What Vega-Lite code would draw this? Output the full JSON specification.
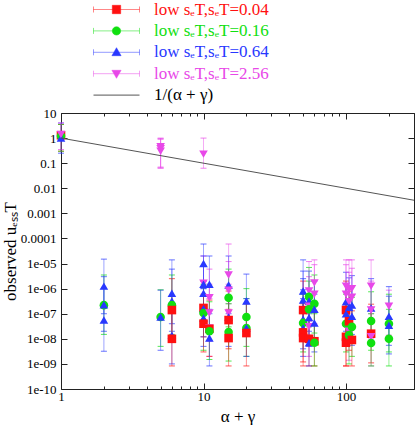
{
  "$schema": "https://vega.github.io/schema/vega-lite/v6.json",
  "width": 353,
  "height": 276,
  "autosize": "none",
  "padding": {"left": 61, "top": 113, "right": 1, "bottom": 36},
  "config": {
    "font": "Liberation Serif",
    "view": {"stroke": "#222", "strokeWidth": 1},
    "axis": {"grid": false, "domain": false, "tickColor": "#222", "labelColor": "#000", "titleColor": "#000", "labelFont": "Liberation Serif", "titleFont": "Liberation Serif", "titleFontWeight": "normal", "labelFontSize": 13, "titleFontSize": 17},
    "legend": {"orient": "none", "legendX": 47, "legendY": -112, "title": null, "padding": 0,
      "labelFont": "Liberation Serif", "labelFontSize": 17, "rowPadding": 3.4, "symbolSize": 16, "labelOffset": 29, "symbolStrokeWidth": 1}
  },
  "data": {"values": [
    {"x": 1, "y": 1.3, "lo": 0.3, "hi": 3.5, "s": "0.04"},
    {"x": 1, "y": 1.2, "lo": 0.3, "hi": 3.5, "s": "0.16"},
    {"x": 1, "y": 1.0, "lo": 0.25, "hi": 4, "s": "0.64"},
    {"x": 1, "y": 1.4, "lo": 0.35, "hi": 4, "s": "2.56"},
    {"x": 2, "y": 2.2e-7, "lo": 1.5e-8, "hi": 3.5e-6, "s": "0.16"},
    {"x": 2, "y": 1.26e-6, "lo": 1e-7, "hi": 1.5e-5, "s": "0.64"},
    {"x": 2, "y": 2.3e-7, "lo": 2e-8, "hi": 3e-6, "s": "0.64"},
    {"x": 2, "y": 5.6e-8, "lo": 3.2e-9, "hi": 1e-6, "s": "0.64"},
    {"x": 5, "y": 7.4e-8, "lo": 5e-9, "hi": 9e-7, "s": "0.16"},
    {"x": 5, "y": 7.4e-8, "lo": 3.5e-9, "hi": 8.7e-7, "s": "0.64"},
    {"x": 5, "y": 0.45, "lo": 0.07, "hi": 1.0, "s": "2.56"},
    {"x": 5, "y": 0.38, "lo": 0.065, "hi": 0.95, "s": "2.56"},
    {"x": 5, "y": 0.3, "lo": 0.063, "hi": 0.9, "s": "2.56"},
    {"x": 6, "y": 6.6e-7, "lo": 4e-8, "hi": 1.4e-5, "s": "0.64"},
    {"x": 6, "y": 3.2e-7, "lo": 2e-8, "hi": 6e-6, "s": "0.64"},
    {"x": 6, "y": 2.2e-7, "lo": 1.5e-8, "hi": 3.5e-6, "s": "0.16"},
    {"x": 6, "y": 1.4e-7, "lo": 1e-8, "hi": 2.5e-6, "s": "0.04"},
    {"x": 6, "y": 1.4e-8, "lo": 1e-9, "hi": 2.5e-7, "s": "0.64"},
    {"x": 6, "y": 1e-8, "lo": 8.3e-10, "hi": 1.5e-7, "s": "0.04"},
    {"x": 10, "y": 1e-5, "lo": 1e-6, "hi": 6e-5, "s": "0.64"},
    {"x": 10, "y": 1.66e-6, "lo": 1.5e-7, "hi": 2e-5, "s": "2.56"},
    {"x": 10, "y": 1.5e-6, "lo": 1.2e-7, "hi": 2e-5, "s": "0.64"},
    {"x": 10, "y": 6.6e-7, "lo": 5e-8, "hi": 8e-6, "s": "0.64"},
    {"x": 10, "y": 1.7e-7, "lo": 1.2e-8, "hi": 2e-6, "s": "0.04"},
    {"x": 10, "y": 1.6e-7, "lo": 1.2e-8, "hi": 2e-6, "s": "0.64"},
    {"x": 10, "y": 1.07e-7, "lo": 3.5e-9, "hi": 1.5e-6, "s": "0.16"},
    {"x": 10, "y": 6.8e-8, "lo": 5e-9, "hi": 1e-6, "s": "0.64"},
    {"x": 10, "y": 4e-8, "lo": 3e-9, "hi": 6e-7, "s": "0.04"},
    {"x": 10, "y": 0.23, "lo": 0.063, "hi": 1.0, "s": "2.56"},
    {"x": 11, "y": 1.5e-6, "lo": 1e-7, "hi": 2e-5, "s": "0.64"},
    {"x": 11, "y": 4.3e-7, "lo": 3e-8, "hi": 6e-6, "s": "2.56"},
    {"x": 11, "y": 1.07e-7, "lo": 8e-9, "hi": 1.5e-6, "s": "2.56"},
    {"x": 11, "y": 2.7e-8, "lo": 2e-9, "hi": 4e-7, "s": "2.56"},
    {"x": 11, "y": 2.5e-8, "lo": 2e-9, "hi": 3.5e-7, "s": "0.04"},
    {"x": 11, "y": 2e-8, "lo": 1.5e-9, "hi": 3e-7, "s": "0.16"},
    {"x": 11, "y": 1.07e-8, "lo": 8.3e-10, "hi": 1.5e-7, "s": "0.64"},
    {"x": 15, "y": 3.5e-6, "lo": 2.5e-7, "hi": 6e-5, "s": "2.56"},
    {"x": 15, "y": 1.4e-6, "lo": 1e-7, "hi": 2e-5, "s": "0.64"},
    {"x": 15, "y": 8.7e-7, "lo": 6e-8, "hi": 1.2e-5, "s": "2.56"},
    {"x": 15, "y": 4.3e-7, "lo": 3e-8, "hi": 6e-6, "s": "0.16"},
    {"x": 15, "y": 1.07e-7, "lo": 8e-9, "hi": 1.5e-6, "s": "2.56"},
    {"x": 15, "y": 7.4e-8, "lo": 5e-9, "hi": 1e-6, "s": "0.64"},
    {"x": 15, "y": 5.6e-8, "lo": 4e-9, "hi": 8e-7, "s": "0.04"},
    {"x": 15, "y": 1.86e-8, "lo": 1.3e-9, "hi": 2.5e-7, "s": "0.16"},
    {"x": 15, "y": 1.07e-8, "lo": 8.3e-10, "hi": 1.5e-7, "s": "0.04"},
    {"x": 20, "y": 3.2e-7, "lo": 2e-8, "hi": 3.8e-6, "s": "0.64"},
    {"x": 20, "y": 7.4e-8, "lo": 5e-9, "hi": 1e-6, "s": "0.16"},
    {"x": 20, "y": 2.7e-8, "lo": 2e-9, "hi": 4e-7, "s": "0.16"},
    {"x": 20, "y": 2.7e-8, "lo": 2e-9, "hi": 4e-7, "s": "0.64"},
    {"x": 20, "y": 1.7e-8, "lo": 8.3e-10, "hi": 2.5e-7, "s": "0.04"},
    {"x": 50, "y": 8e-7, "lo": 5e-8, "hi": 1.4e-5, "s": "0.64"},
    {"x": 50, "y": 3.5e-7, "lo": 2.5e-8, "hi": 5e-6, "s": "0.64"},
    {"x": 50, "y": 1.6e-7, "lo": 1e-8, "hi": 2.5e-6, "s": "0.64"},
    {"x": 50, "y": 1.4e-7, "lo": 1e-8, "hi": 2e-6, "s": "0.04"},
    {"x": 50, "y": 6e-8, "lo": 4e-9, "hi": 9e-7, "s": "0.64"},
    {"x": 50, "y": 4.3e-8, "lo": 3e-9, "hi": 6e-7, "s": "0.16"},
    {"x": 50, "y": 2.7e-8, "lo": 2e-9, "hi": 4e-7, "s": "0.64"},
    {"x": 50, "y": 1.8e-8, "lo": 1.2e-9, "hi": 2.5e-7, "s": "0.04"},
    {"x": 50, "y": 1.07e-8, "lo": 8.3e-10, "hi": 1.5e-7, "s": "0.04"},
    {"x": 55, "y": 8e-7, "lo": 5e-8, "hi": 1.2e-5, "s": "2.56"},
    {"x": 55, "y": 4.7e-7, "lo": 3e-8, "hi": 7e-6, "s": "0.16"},
    {"x": 55, "y": 3.2e-7, "lo": 2e-8, "hi": 5e-6, "s": "0.64"},
    {"x": 55, "y": 2e-7, "lo": 1.4e-8, "hi": 3e-6, "s": "2.56"},
    {"x": 55, "y": 1.5e-7, "lo": 1e-8, "hi": 2e-6, "s": "0.16"},
    {"x": 55, "y": 7e-8, "lo": 5e-9, "hi": 1e-6, "s": "0.64"},
    {"x": 55, "y": 3e-8, "lo": 2e-9, "hi": 4.5e-7, "s": "2.56"},
    {"x": 55, "y": 1e-8, "lo": 8.3e-10, "hi": 1.5e-7, "s": "0.04"},
    {"x": 55, "y": 7e-9, "lo": 8.3e-10, "hi": 1e-7, "s": "0.64"},
    {"x": 60, "y": 1.7e-6, "lo": 1.2e-7, "hi": 1.4e-5, "s": "2.56"},
    {"x": 60, "y": 6e-7, "lo": 4e-8, "hi": 9e-6, "s": "2.56"},
    {"x": 60, "y": 2.5e-7, "lo": 1.7e-8, "hi": 3.5e-6, "s": "0.16"},
    {"x": 60, "y": 1.5e-7, "lo": 1e-8, "hi": 2e-6, "s": "0.64"},
    {"x": 60, "y": 4.3e-8, "lo": 3e-9, "hi": 6e-7, "s": "0.64"},
    {"x": 60, "y": 8e-9, "lo": 8.3e-10, "hi": 1.2e-7, "s": "0.04"},
    {"x": 60, "y": 7e-9, "lo": 8.3e-10, "hi": 1e-7, "s": "0.16"},
    {"x": 100, "y": 1.26e-6, "lo": 1e-7, "hi": 1.4e-5, "s": "2.56"},
    {"x": 100, "y": 6e-7, "lo": 4e-8, "hi": 9e-6, "s": "2.56"},
    {"x": 100, "y": 3e-7, "lo": 2e-8, "hi": 4.5e-6, "s": "0.64"},
    {"x": 100, "y": 1.4e-7, "lo": 1e-8, "hi": 2e-6, "s": "0.04"},
    {"x": 100, "y": 1e-7, "lo": 7e-9, "hi": 1.5e-6, "s": "0.64"},
    {"x": 100, "y": 4e-8, "lo": 3e-9, "hi": 6e-7, "s": "0.16"},
    {"x": 100, "y": 1.2e-8, "lo": 8.3e-10, "hi": 1.8e-7, "s": "0.04"},
    {"x": 100, "y": 7e-9, "lo": 8.3e-10, "hi": 1e-7, "s": "0.04"},
    {"x": 105, "y": 9e-7, "lo": 6e-8, "hi": 1.4e-5, "s": "2.56"},
    {"x": 105, "y": 3e-7, "lo": 2e-8, "hi": 4.5e-6, "s": "2.56"},
    {"x": 105, "y": 1.8e-7, "lo": 1.2e-8, "hi": 2.7e-6, "s": "0.64"},
    {"x": 105, "y": 5e-8, "lo": 3.5e-9, "hi": 7.5e-7, "s": "0.04"},
    {"x": 105, "y": 2e-8, "lo": 1.4e-9, "hi": 3e-7, "s": "2.56"},
    {"x": 105, "y": 1.4e-8, "lo": 1e-9, "hi": 2e-7, "s": "0.16"},
    {"x": 110, "y": 1e-6, "lo": 7e-8, "hi": 1.4e-5, "s": "2.56"},
    {"x": 110, "y": 4.5e-7, "lo": 3e-8, "hi": 6.5e-6, "s": "2.56"},
    {"x": 110, "y": 2.2e-7, "lo": 1.5e-8, "hi": 3.3e-6, "s": "0.64"},
    {"x": 110, "y": 8e-8, "lo": 5.5e-9, "hi": 1.2e-6, "s": "0.64"},
    {"x": 110, "y": 3e-8, "lo": 2e-9, "hi": 4.5e-7, "s": "0.16"},
    {"x": 110, "y": 9e-9, "lo": 8.3e-10, "hi": 1.3e-7, "s": "0.04"},
    {"x": 150, "y": 1.26e-6, "lo": 1e-7, "hi": 1.4e-5, "s": "2.56"},
    {"x": 150, "y": 1.7e-7, "lo": 1.2e-8, "hi": 2.5e-6, "s": "0.64"},
    {"x": 150, "y": 1.4e-7, "lo": 1e-8, "hi": 2e-6, "s": "2.56"},
    {"x": 150, "y": 5.1e-8, "lo": 3.5e-9, "hi": 7.5e-7, "s": "0.16"},
    {"x": 150, "y": 1.6e-8, "lo": 1.1e-9, "hi": 2.4e-7, "s": "0.04"},
    {"x": 150, "y": 1.2e-8, "lo": 8.3e-10, "hi": 1.8e-7, "s": "2.56"},
    {"x": 150, "y": 6.8e-9, "lo": 8.3e-10, "hi": 1e-7, "s": "0.16"},
    {"x": 200, "y": 2e-7, "lo": 1.4e-8, "hi": 8.7e-7, "s": "2.56"},
    {"x": 200, "y": 8e-8, "lo": 5.5e-9, "hi": 1.2e-6, "s": "0.64"},
    {"x": 200, "y": 4e-8, "lo": 3e-9, "hi": 6e-7, "s": "0.16"},
    {"x": 200, "y": 3.5e-8, "lo": 2.5e-9, "hi": 5e-7, "s": "0.64"},
    {"x": 200, "y": 1e-8, "lo": 8.3e-10, "hi": 1.5e-7, "s": "0.16"}
  ]},
  "resolve": {"axis": {"x": "independent", "y": "independent"}},
  "layer": [
    {
      "mark": {"type": "errorbar", "ticks": {"size": 6, "strokeOpacity": 0.45}, "rule": {"strokeOpacity": 0.45, "strokeWidth": 1}},
      "encoding": {
        "x": {"field": "x", "type": "quantitative", "axis": null},
        "y": {"field": "lo", "type": "quantitative", "axis": null},
        "y2": {"field": "hi"},
        "color": {"field": "s", "type": "nominal",
          "legend": {
            "labelExpr": "datum.label == '1/(α + γ)' ? datum.label : 'low sₑT,sₑT=' + datum.label",
            "encode": {
              "symbols": {"update": {
                "shape": {"signal": "datum.value == '0.04' ? 'M-11.5,0H11.5M-11.5,-1.5V1.5M11.5,-1.5V1.5M-2.1,-2.1H2.1V2.1H-2.1Z' : datum.value == '0.16' ? 'M-11.5,0H11.5M-11.5,-1.5V1.5M11.5,-1.5V1.5M-2.1,0A2.1,2.1 0 1,0 2.1,0A2.1,2.1 0 1,0 -2.1,0Z' : datum.value == '0.64' ? 'M-11.5,0H11.5M-11.5,-1.5V1.5M11.5,-1.5V1.5M0,-2.3L2.3,1.7L-2.3,1.7Z' : datum.value == '2.56' ? 'M-11.5,0H11.5M-11.5,-1.5V1.5M11.5,-1.5V1.5M0,2.3L2.3,-1.7L-2.3,-1.7Z' : 'M-11.5,0H11.5'"},
                "fill": {"scale": "color", "field": "value"},
                "stroke": {"scale": "color", "field": "value"},
                "strokeOpacity": {"signal": "datum.value == '1/(α + γ)' ? 1 : 0.5"},
                "strokeWidth": {"value": 1},
                "fillOpacity": {"value": 1},
                "opacity": {"value": 1}
              }},
              "labels": {"update": {"fill": {"signal": "datum.value == '1/(α + γ)' ? '#000' : scale('color', datum.value)"}}}
            }}}
      }
    },
    {
      "mark": {"type": "point", "filled": true, "opacity": 1, "size": 74},
      "encoding": {
        "x": {"field": "x", "type": "quantitative",
          "scale": {"type": "log", "domain": [1, 300], "nice": false},
          "axis": {"orient": "bottom", "title": "α + γ", "values": [1,2,3,4,5,6,7,8,9,10,20,30,40,50,60,70,80,90,100,200,300],
            "labelExpr": "datum.value == 1 || datum.value == 10 || datum.value == 100 ? '' + datum.value : ''",
            "labelOverlap": false, "labelFlush": false,
            "tickSize": {"condition": {"test": "datum.value == 1 || datum.value == 10 || datum.value == 100", "value": -6}, "value": -3},
            "labelPadding": 7, "titlePadding": 2}},
        "y": {"field": "y", "type": "quantitative",
          "scale": {"type": "log", "domain": [1e-10, 10], "nice": false},
          "axis": {"orient": "left", "title": "observed uₑₛₛT", "values": [1e-10,1e-9,1e-8,1e-7,1e-6,1e-5,1e-4,1e-3,1e-2,1e-1,1,10],
            "labelExpr": "datum.value >= 0.0001 ? '' + datum.value : '1e-' + (round(-log(datum.value)/LN10) < 10 ? '0' : '') + round(-log(datum.value)/LN10)",
            "labelOverlap": false, "labelFlush": false, "tickSize": -6, "labelPadding": 11, "titlePadding": 1}},
        "color": {"field": "s", "type": "nominal",
          "scale": {"domain": ["0.04", "0.16", "0.64", "2.56", "1/(α + γ)"], "range": ["#ff1010", "#10e010", "#2838ff", "#e848e8", "#555555"]},
          "legend": {
            "labelExpr": "datum.label == '1/(α + γ)' ? datum.label : 'low sₑT,sₑT=' + datum.label",
            "encode": {
              "symbols": {"update": {
                "shape": {"signal": "datum.value == '0.04' ? 'M-11.5,0H11.5M-11.5,-1.5V1.5M11.5,-1.5V1.5M-2.1,-2.1H2.1V2.1H-2.1Z' : datum.value == '0.16' ? 'M-11.5,0H11.5M-11.5,-1.5V1.5M11.5,-1.5V1.5M-2.1,0A2.1,2.1 0 1,0 2.1,0A2.1,2.1 0 1,0 -2.1,0Z' : datum.value == '0.64' ? 'M-11.5,0H11.5M-11.5,-1.5V1.5M11.5,-1.5V1.5M0,-2.3L2.3,1.7L-2.3,1.7Z' : datum.value == '2.56' ? 'M-11.5,0H11.5M-11.5,-1.5V1.5M11.5,-1.5V1.5M0,2.3L2.3,-1.7L-2.3,-1.7Z' : 'M-11.5,0H11.5'"},
                "fill": {"scale": "color", "field": "value"},
                "stroke": {"scale": "color", "field": "value"},
                "strokeOpacity": {"signal": "datum.value == '1/(α + γ)' ? 1 : 0.5"},
                "strokeWidth": {"value": 1},
                "fillOpacity": {"value": 1},
                "opacity": {"value": 1}
              }},
              "labels": {"update": {"fill": {"signal": "datum.value == '1/(α + γ)' ? '#000' : scale('color', datum.value)"}}}
            }}},
        "shape": {"field": "s", "type": "nominal",
          "scale": {"domain": ["0.04", "0.16", "0.64", "2.56"], "range": ["square", "circle", "triangle-up", "triangle-down"]},
          "legend": null}
      }
    },
    {
      "data": {"values": [
        {"x": 1, "y": 1, "s": "1/(α + γ)"},
        {"x": 300, "y": 0.003333, "s": "1/(α + γ)"}
      ]},
      "mark": {"type": "line", "strokeWidth": 1},
      "encoding": {
        "x": {"field": "x", "type": "quantitative",
          "axis": {"orient": "top", "title": null, "labels": false, "values": [1,2,3,4,5,6,7,8,9,10,20,30,40,50,60,70,80,90,100,200,300],
            "tickSize": {"condition": {"test": "datum.value == 1 || datum.value == 10 || datum.value == 100", "value": -6}, "value": -3}}},
        "y": {"field": "y", "type": "quantitative",
          "axis": {"orient": "right", "title": null, "labels": false, "values": [1e-10,1e-9,1e-8,1e-7,1e-6,1e-5,1e-4,1e-3,1e-2,1e-1,1,10], "tickSize": -6}},
        "color": {"field": "s", "type": "nominal",
          "legend": {
            "labelExpr": "datum.label == '1/(α + γ)' ? datum.label : 'low sₑT,sₑT=' + datum.label",
            "encode": {
              "symbols": {"update": {
                "shape": {"signal": "datum.value == '0.04' ? 'M-11.5,0H11.5M-11.5,-1.5V1.5M11.5,-1.5V1.5M-2.1,-2.1H2.1V2.1H-2.1Z' : datum.value == '0.16' ? 'M-11.5,0H11.5M-11.5,-1.5V1.5M11.5,-1.5V1.5M-2.1,0A2.1,2.1 0 1,0 2.1,0A2.1,2.1 0 1,0 -2.1,0Z' : datum.value == '0.64' ? 'M-11.5,0H11.5M-11.5,-1.5V1.5M11.5,-1.5V1.5M0,-2.3L2.3,1.7L-2.3,1.7Z' : datum.value == '2.56' ? 'M-11.5,0H11.5M-11.5,-1.5V1.5M11.5,-1.5V1.5M0,2.3L2.3,-1.7L-2.3,-1.7Z' : 'M-11.5,0H11.5'"},
                "fill": {"scale": "color", "field": "value"},
                "stroke": {"scale": "color", "field": "value"},
                "strokeOpacity": {"signal": "datum.value == '1/(α + γ)' ? 1 : 0.5"},
                "strokeWidth": {"value": 1},
                "fillOpacity": {"value": 1},
                "opacity": {"value": 1}
              }},
              "labels": {"update": {"fill": {"signal": "datum.value == '1/(α + γ)' ? '#000' : scale('color', datum.value)"}}}
            }}}
      }
    }
  ]
}
